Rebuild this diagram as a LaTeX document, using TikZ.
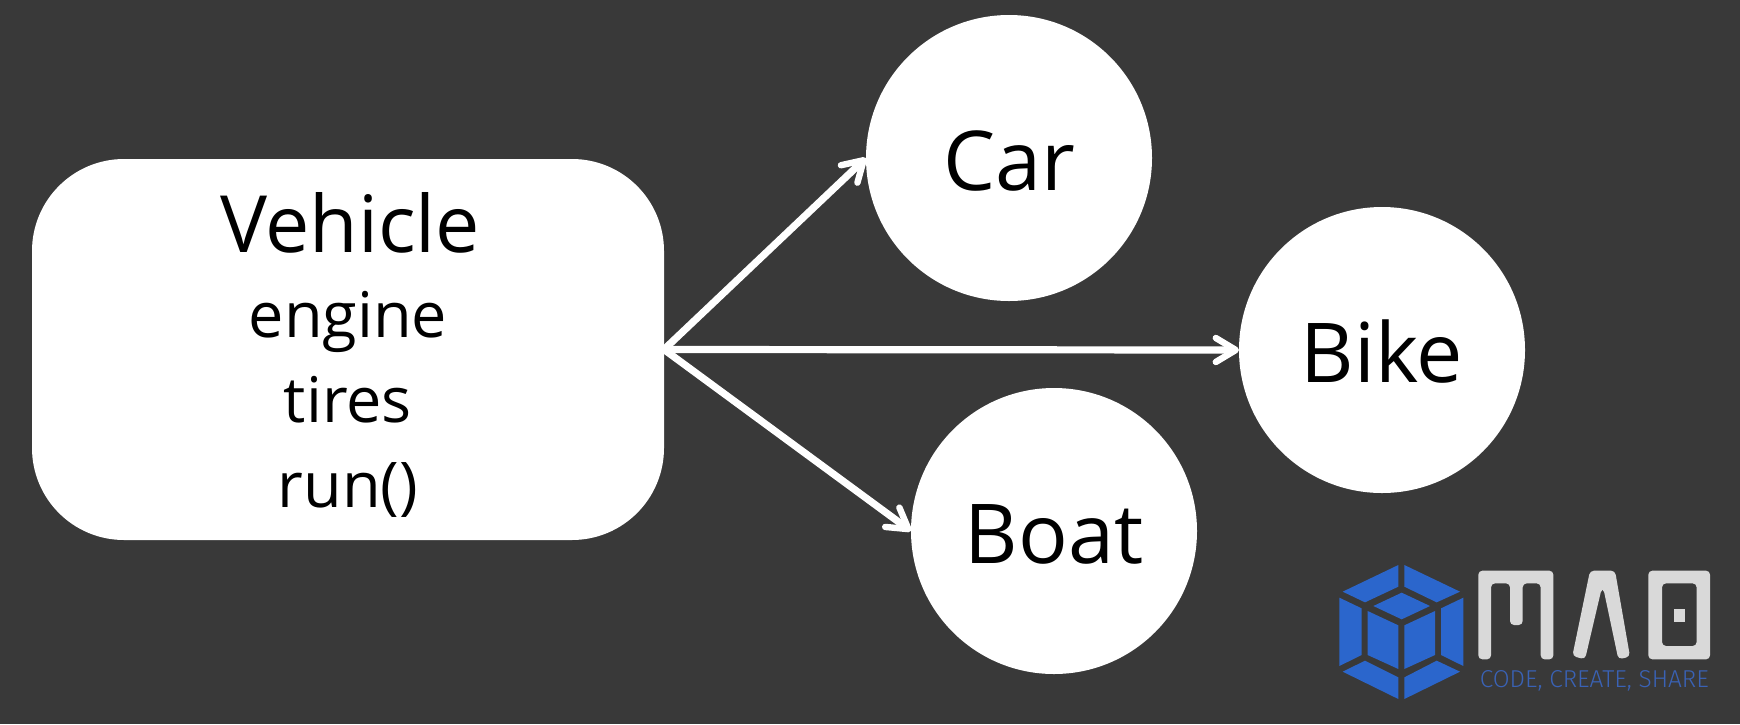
\documentclass[tikz,border=0pt]{standalone}
\usepackage{fontspec}
\setmainfont{Open Sans}
\newfontfamily\logofont{Fira Sans Light}
\usetikzlibrary{arrows.meta}

\definecolor{bgdark}{HTML}{393939}
\definecolor{logoblue}{HTML}{2B66CC}
\definecolor{logogray}{HTML}{D9D9D9}
\definecolor{logotext}{HTML}{3A62B5}

\begin{document}
\begin{tikzpicture}[x=0.5pt,y=-0.5pt,
                    main node/.style={circle,fill=white,minimum size=143pt,inner sep=0pt,outer sep=0pt,text height=32.6pt,text depth=0pt,font=\fontsize{41.3}{48}\selectfont},
                    class node/.style={rectangle,fill=white,rounded corners=46pt,minimum width=316pt,minimum height=190.5pt,inner sep=0pt,outer sep=0pt,align=center,font=\fontsize{31.5}{42.5}\selectfont},
                    link/.style={draw=white,line width=3.6pt,line cap=round,-{Straight Barb[length=10pt,width=12pt,line width=3.2pt,round]}},
                    cube part/.style={fill=logoblue},
                    letter/.style={fill=logogray,rounded corners=2pt}]

  \fill[bgdark] (0,0) rectangle (1740,724);
  \useasboundingbox (0,0) rectangle (1740,724);

  \node[class node] (vehicle) at (348,349.5) {%
    \rule{0pt}{35.6pt}\hspace*{2.2pt}{\fontsize{39.5}{42.5}\selectfont Vehicle}\\
    engine\\
    tires\\
    run()};

  \node[main node] (car) at (1009,158) {Car};
  \node[main node] (bike) at (1382,350) {Bike};
  \node[main node] (boat) at (1054,531) {Boat};

  \draw[link] (vehicle.east) -- (car.west);
  \draw[link] (vehicle.east) -- (bike.west);
  \draw[link] (vehicle.east) -- (boat.west);

  % logo
  \begin{scope}[shift={(1320,550)},x=0.16667pt,y=-0.16667pt]
    \fill[cube part] (235,45) -- (235,110) -- (135,157) -- (68,125) -- cycle;
    \fill[cube part] (253,45) -- (253,110) -- (350,157) -- (420,125) -- cycle;
    \fill[cube part] (58,143) -- (125,175) -- (125,315) -- (58,348) -- cycle;
    \fill[cube part] (430,143) -- (363,175) -- (363,315) -- (430,348) -- cycle;
    \fill[cube part] (68,365) -- (135,332) -- (235,382) -- (235,447) -- cycle;
    \fill[cube part] (420,365) -- (350,332) -- (253,382) -- (253,447) -- cycle;
    \fill[cube part] (245,128) -- (330,168) -- (245,208) -- (160,168) -- cycle;
    \fill[cube part] (143,183) -- (235,226) -- (235,357) -- (143,315) -- cycle;
    \fill[cube part] (345,183) -- (253,226) -- (253,357) -- (345,315) -- cycle;

    \fill[letter] (475,62) -- (700,62) -- (700,328) -- (662,328) -- (662,100) -- (608,100)
      -- (608,225) -- (570,225) -- (570,100) -- (513,100) -- (513,328) -- (475,328) -- cycle;
    \fill[letter] (810,62) -- (885,62) -- (930,320) -- (895,328) -- (850,115) -- (845,115)
      -- (795,328) -- (757,318) -- cycle;
    \fill[letter,even odd rule] (985,62) rectangle (1170,328) (1026,100) rectangle (1130,288);
    \fill[logogray] (1062,176) rectangle (1094,215);

    \node[text=logotext,font=\logofont\fontsize{12.2}{14}\selectfont,inner sep=0pt] (slogan) at (823,394) {CODE, CREATE, SHARE};
  \end{scope}
\end{tikzpicture}
\end{document}
